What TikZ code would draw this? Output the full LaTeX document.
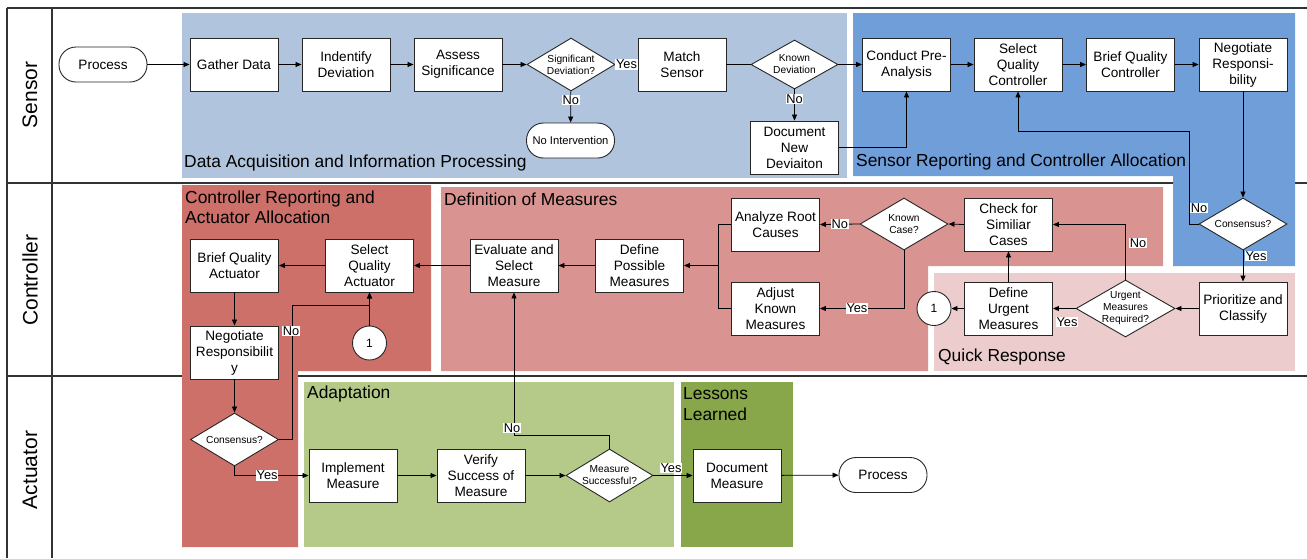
\documentclass[tikz,border=0pt]{standalone}
\usepackage{fontspec}
\setmainfont{Liberation Sans}
\usetikzlibrary{shapes.geometric,arrows.meta,calc}
\definecolor{cdaip}{RGB}{176,196,222}
\definecolor{csrca}{RGB}{112,158,216}
\definecolor{ccraa}{RGB}{204,112,105}
\definecolor{cdefm}{RGB}{217,148,145}
\definecolor{cquick}{RGB}{236,204,204}
\definecolor{cadapt}{RGB}{181,202,136}
\definecolor{clesson}{RGB}{136,166,74}
\begin{document}
\begin{tikzpicture}[x=1pt,y=-1pt,
  box/.style={draw=black!85, line width=0.9pt, fill=white, minimum width=88pt, minimum height=53pt, inner sep=1pt, align=center, font=\fontsize{13.6}{16}\selectfont},
  term/.style={draw=black!85, line width=0.9pt, fill=white, rounded corners=17pt, minimum width=88pt, minimum height=35pt, inner sep=1pt, align=center, font=\fontsize{13.6}{16}\selectfont},
  dia/.style={diamond, draw=black!85, line width=0.9pt, fill=white, inner sep=0pt, minimum width=88pt, minimum height=53pt},
  dtxt/.style={font=\fontsize{10.2}{12}\selectfont, align=center, inner sep=0pt},
  lbl/.style={fill=white, inner sep=0.6pt, font=\fontsize{12.8}{14}\selectfont},
  circ/.style={circle, draw=black!85, line width=0.9pt, fill=white, minimum size=34pt, inner sep=0pt, font=\fontsize{12}{14}\selectfont},
  rtitle/.style={anchor=west, font=\fontsize{17.4}{20.5}\selectfont, align=left, inner sep=0pt},
  lanetxt/.style={rotate=90, font=\fontsize{21}{24}\selectfont},
  laneline/.style={line width=1.4pt, draw=black!80},
  arr/.style={-{Triangle[length=6pt,width=5pt]}, line width=0.8pt},
  ln/.style={line width=0.8pt}
]
\useasboundingbox (0,0) rectangle (1307,558);
% lanes
\draw[laneline] (7,8) -- (1307,8);
\draw[laneline] (7,183) -- (1307,183);
\draw[laneline] (7,376) -- (1307,376);
\draw[laneline] (7,8) -- (7,558);
\draw[laneline] (52,8) -- (52,558);
\node[lanetxt] (lsensor) at (30,95) {Sensor};
\node[lanetxt] (lcontroller) at (30,280) {Controller};
\node[lanetxt] (lactuator) at (30,470) {Actuator};
% regions
\fill[cdaip] (182,13) rectangle (847,178);
\fill[csrca] (853,13) -- (1295,13) -- (1295,266) -- (1173,266) -- (1173,176) -- (853,176) -- cycle;
\fill[ccraa] (182,185) -- (431,185) -- (431,371) -- (298,371) -- (298,547) -- (182,547) -- cycle;
\fill[cdefm] (441,187) -- (1163,187) -- (1163,266) -- (928,266) -- (928,371) -- (441,371) -- cycle;
\fill[cquick] (934,273) rectangle (1295,371);
\fill[cadapt] (304,382) rectangle (674,547);
\fill[clesson] (681,382) rectangle (793,547);
\node[rtitle] (t1) at (184,163) {Data Acquisition and Information Processing};
\node[rtitle] (t2) at (856,162) {Sensor Reporting and Controller Allocation};
\node[rtitle] (t3) at (185,207.5) {Controller Reporting and\\Actuator Allocation};
\node[rtitle] (t4) at (444,199) {Definition of Measures};
\node[rtitle] (t5) at (938,357) {Quick Response};
\node[rtitle] (t6) at (307,394) {Adaptation};
\node[rtitle] (t7) at (683,404) {Lessons\\Learned};
% sensor lane nodes
\node[term] (p1) at (103,64.5) {Process};
\node[box] (gd) at (234,64.5) {Gather Data};
\node[box] (id) at (346,64.5) {Indentify\\Deviation};
\node[box] (as) at (458,64.5) {Assess\\Significance};
\node[dia, label={[dtxt]center:Significant\\Deviation?}] (sd) at (571,64.5) {};
\node[box] (ms) at (682,64.5) {Match\\Sensor};
\node[dia, minimum width=87pt, minimum height=49pt, label={[dtxt]center:Known\\Deviation}] (kd) at (794.5,64.5) {};
\node[term, font=\fontsize{11.2}{13}\selectfont] (ni) at (570.5,140.5) {No Intervention};
\node[box] (dn) at (794.5,147.5) {Document\\New\\Deviaiton};
\node[box] (cp) at (906.5,64.5) {Conduct Pre-\\Analysis};
\node[box] (sq) at (1018,64.5) {Select\\Quality\\Controller};
\node[box] (bq) at (1130.5,64.5) {Brief Quality\\Controller};
\node[box] (nr) at (1243,64.5) {Negotiate\\Responsi-\\bility};
% controller lane nodes
\node[dia, minimum height=52pt, label={[dtxt]center:Consensus?}] (cs1) at (1243,224) {};
\node[box] (pc) at (1243,308.5) {Prioritize and\\Classify};
\node[dia, minimum width=99pt, minimum height=57pt, label={[dtxt]center:Urgent\\Measures\\Required?}] (ur) at (1125.5,308.5) {};
\node[box] (du) at (1008.5,308.5) {Define\\Urgent\\Measures};
\node[circ] (c1) at (934,308.5) {1};
\node[box] (cc) at (1008.5,224.5) {Check for\\Similiar\\Cases};
\node[dia, minimum height=52pt, label={[dtxt]center:Known\\Case?}] (kc) at (904,224) {};
\node[box] (ar) at (775.5,224.5) {Analyze Root\\Causes};
\node[box] (ak) at (775.5,308.5) {Adjust\\Known\\Measures};
\coordinate (j) at (718,265.5);
\node[box] (dp) at (639.5,265.5) {Define\\Possible\\Measures};
\node[box] (es) at (514,265.5) {Evaluate and\\Select\\Measure};
\node[box] (sa) at (369.5,265.5) {Select\\Quality\\Actuator};
\node[box] (ba) at (234.5,265.5) {Brief Quality\\Actuator};
\node[box] (na) at (234.5,352.5) {Negotiate\\Responsibilit\\y};
\node[dia, label={[dtxt]center:Consensus?}] (cs2) at (234.5,439.5) {};
\node[circ] (c2) at (369.5,343) {1};
% actuator lane nodes
\node[box] (im) at (353,475.5) {Implement\\Measure};
\node[box] (vs) at (481,475.5) {Verify\\Success of\\Measure};
\node[dia, minimum width=87pt, label={[dtxt]center:Measure\\Successful?}] (mq) at (609.5,475.5) {};
\node[box] (dm) at (737,475.5) {Document\\Measure};
\node[term] (p2) at (883,475) {Process};
% connectors sensor
\draw[arr] (p1) -- (gd);
\draw[arr] (gd) -- (id);
\draw[arr] (id) -- (as);
\draw[arr] (as) -- (sd);
\draw[arr] (sd) -- node[lbl] {Yes} (ms);
\draw[arr] (sd) -- node[lbl, pos=0.28] {No} (ni);
\draw[ln] (ms) -- (kd);
\draw[arr] (kd) -- (cp);
\draw[arr] (kd) -- node[lbl, pos=0.3] {No} (dn);
\draw[arr] (dn.east) -| (cp.south);
\draw[arr] (cp) -- (sq);
\draw[arr] (sq) -- (bq);
\draw[arr] (bq) -- (nr);
\draw[arr] (nr.south) -- (cs1.north);
\draw[arr] (cs1.west) -- ++(-9,0) |- ([yshift=-40pt]sq.south) -- (sq.south);
\node[lbl] (lno1) at (1199,208) {No};
\draw[arr] (cs1.south) -- (pc.north);
\node[lbl] (lyes1) at (1256,256) {Yes};
% connectors controller
\draw[arr] (pc) -- (ur);
\draw[arr] (ur) -- (du);
\node[lbl] (lyes2) at (1067,322) {Yes};
\draw[arr] (ur.north) |- (cc.east);
\node[lbl] (lno2) at (1138,243) {No};
\draw[arr] (du.north) -- (cc.south);
\draw[arr] (du.west) -- (c1.east);
\draw[arr] (cc.west) -- (kc.east);
\draw[arr] (kc.west) -- node[lbl] {No} (ar.east);
\draw[arr] (kc.south) |- node[lbl, pos=0.78] {Yes} (ak.east);
\draw[ln] (ar.west) -| (j);
\draw[ln] (ak.west) -| (j);
\draw[arr] (j) -- (dp.east);
\draw[arr] (dp) -- (es);
\draw[arr] (es) -- (sa);
\draw[arr] (sa) -- (ba);
\draw[arr] (ba) -- (na);
\draw[arr] (na) -- (cs2);
\draw[arr] (cs2.east) -- ++(13,0) |- ([yshift=-13pt]sa.south) -- (sa.south);
\node[lbl] (lno3) at (291,331) {No};
\draw[arr] (c2.north) -- (sa.south);
\draw[arr] (cs2.south) |- node[lbl, pos=0.72] {Yes} (im.west);
% connectors actuator
\draw[arr] (im) -- (vs);
\draw[arr] (vs) -- (mq);
\draw[arr] (mq.north) -- ++(0,-13) -| (es.south);
\node[lbl] (lno4) at (512,428) {No};
\draw[arr] (mq) -- (dm);
\node[lbl] (lyes3) at (671,468) {Yes};
\draw[arr] (dm) -- (p2);
\end{tikzpicture}
\end{document}
